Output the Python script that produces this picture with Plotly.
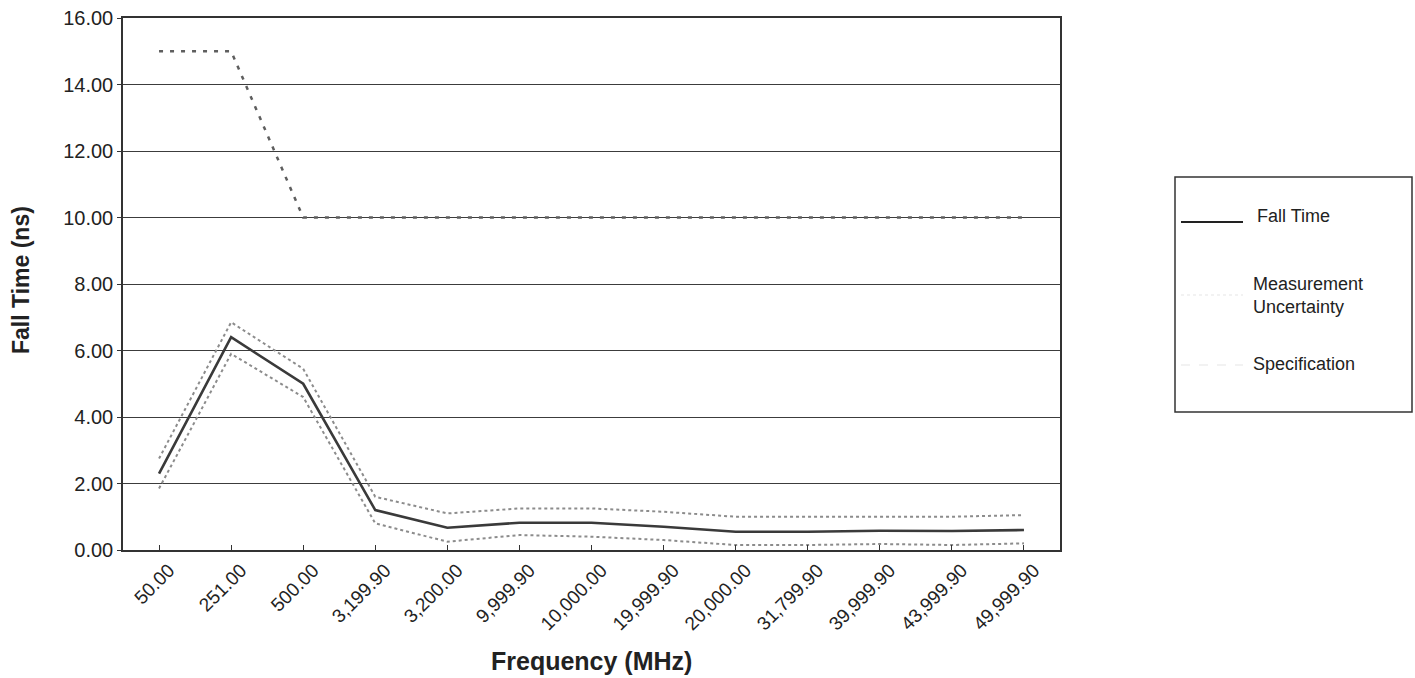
import plotly.graph_objects as go

# Frequency points (MHz) and measured fall times (ns)
frequency_labels = ["50.00", "251.00", "500.00", "3,199.90", "3,200.00", "9,999.90",
                    "10,000.00", "19,999.90", "20,000.00", "31,799.90", "39,999.90",
                    "43,999.90", "49,999.90"]
fall_time = [2.3, 6.4, 5.0, 1.2, 0.67, 0.82, 0.82, 0.7, 0.55, 0.55, 0.58, 0.57, 0.6]
uncertainty_upper = [2.75, 6.85, 5.45, 1.6, 1.1, 1.25, 1.25, 1.15, 1.0, 1.0, 1.02, 1.0, 1.05]
uncertainty_lower = [1.85, 5.9, 4.6, 0.8, 0.25, 0.45, 0.4, 0.3, 0.15, 0.15, 0.18, 0.15, 0.2]
specification = [15, 15, 10, 10, 10, 10, 10, 10, 10, 10, 10, 10, 10]
y_ticks = [0, 2, 4, 6, 8, 10, 12, 14, 16]

FONT = "Liberation Sans, Arial, sans-serif"
INK = "#222"

fig = go.Figure()
fig.add_trace(go.Scatter(x=frequency_labels, y=specification, mode="lines",
                         line=dict(color="#5e5e5e", width=2.5, dash="4px,7px"),
                         name="Specification"))
fig.add_trace(go.Scatter(x=frequency_labels, y=uncertainty_upper, mode="lines",
                         line=dict(color="#8c8c8c", width=2, dash="dot"),
                         name="Measurement Uncertainty"))
fig.add_trace(go.Scatter(x=frequency_labels, y=uncertainty_lower, mode="lines",
                         line=dict(color="#8c8c8c", width=2, dash="dot"),
                         name="Measurement Uncertainty", showlegend=False))
fig.add_trace(go.Scatter(x=frequency_labels, y=fall_time, mode="lines",
                         line=dict(color="#3a3a3a", width=2.6),
                         name="Fall Time"))

# Pixel -> paper helpers for the plot area (123..1060 wide, 18..550 tall)
W, H = 937.0, 532.0
def px(x):
    return (x - 123) / W
def py(y):
    return (550 - y) / H

# Hand-built legend box to the right of the plot
shapes = [
    dict(type="rect", xref="paper", yref="paper", x0=px(1175), x1=px(1412),
         y0=py(412), y1=py(177), line=dict(color="#333", width=1.5)),
    dict(type="line", xref="paper", yref="paper", x0=px(1181), x1=px(1243),
         y0=py(222), y1=py(222), line=dict(color="#222", width=2)),
    dict(type="line", xref="paper", yref="paper", x0=px(1181), x1=px(1243),
         y0=py(295), y1=py(295), line=dict(color="#eeeeee", width=1.5, dash="dot")),
    dict(type="line", xref="paper", yref="paper", x0=px(1181), x1=px(1243),
         y0=py(365), y1=py(365), line=dict(color="#eeeeee", width=1.5, dash="dash")),
]
annotations = [
    dict(text="Fall Time", xref="paper", yref="paper", x=px(1255), y=py(216),
         xanchor="left", yanchor="middle", showarrow=False,
         font=dict(family=FONT, size=18, color=INK)),
    dict(text="Measurement<br>Uncertainty", xref="paper", yref="paper", x=px(1251),
         y=py(295), xanchor="left", yanchor="middle", showarrow=False, align="left",
         font=dict(family=FONT, size=18, color=INK)),
    dict(text="Specification", xref="paper", yref="paper", x=px(1251), y=py(364),
         xanchor="left", yanchor="middle", showarrow=False,
         font=dict(family=FONT, size=18, color=INK)),
    # Axis titles
    dict(text="<b>Frequency (MHz)</b>", xref="paper", yref="paper", x=px(591), y=py(661),
         xanchor="center", yanchor="middle", showarrow=False,
         font=dict(family=FONT, size=25, color=INK)),
    dict(text="<b>Fall Time (ns)</b>", xref="paper", yref="paper", x=px(21), y=py(280),
         xanchor="center", yanchor="middle", showarrow=False, textangle=-90,
         font=dict(family=FONT, size=23, color=INK)),
]

fig.update_layout(
    width=1415, height=678,
    margin=dict(l=123, r=355, t=18, b=128),
    paper_bgcolor="white", plot_bgcolor="white",
    showlegend=False,
    shapes=shapes, annotations=annotations,
    font=dict(family=FONT, color=INK),
)
fig.update_xaxes(
    type="category", categoryorder="array", categoryarray=frequency_labels,
    range=[-0.5, len(frequency_labels) - 0.5], automargin=False,
    tickangle=-45, ticks="inside", ticklen=5, tickcolor="#333",
    ticklabelshift=10,
    tickfont=dict(size=19, family=FONT, color=INK),
    showline=True, linecolor="#333", linewidth=1.5, mirror=True,
    showgrid=False, zeroline=False,
)
fig.update_yaxes(
    range=[0, 16], tickvals=y_ticks, ticktext=[f"{v:.2f}" for v in y_ticks],
    automargin=False,
    ticks="outside", ticklen=4, tickcolor="#333",
    tickfont=dict(size=20, family=FONT, color=INK),
    showline=True, linecolor="#333", linewidth=1.5, mirror=True,
    showgrid=True, gridcolor="#3c3c3c", gridwidth=1.3, zeroline=False,
)

fig.write_html("out.html")
